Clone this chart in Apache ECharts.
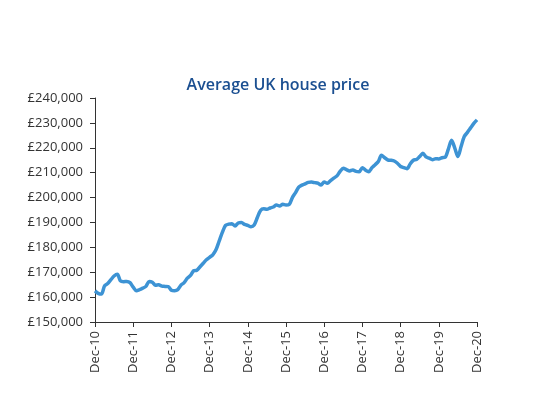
<!DOCTYPE html>
<html>
<head>
<meta charset="utf-8">
<script src="https://cdn.jsdelivr.net/npm/echarts@6/dist/echarts.min.js"></script>
<style>
  html, body { margin: 0; padding: 0; background: #fff; }
  #chart { width: 539px; height: 397px; }
</style>
</head>
<body>
<div id="chart"></div>
<script>
// monthly average UK house price, Dec-10 .. Dec-20
const years = ['10', '11', '12', '13', '14', '15', '16', '17', '18', '19', '20'];
const monthNames = ['Dec', 'Jan', 'Feb', 'Mar', 'Apr', 'May', 'Jun', 'Jul', 'Aug', 'Sep', 'Oct', 'Nov'];
const prices = [
  162500, 161500, 161200, 164500, 165500, 167000, 168500, 169200, 166500, 166200, 166300, 165800,
  164000, 162600, 163000, 163600, 164300, 166300, 166000, 164800, 165000, 164400, 164300, 164200,
  162800, 162600, 163000, 164800, 165800, 167600, 168700, 170600, 170800, 172200, 173600, 175000,
  176000, 177000, 179000, 182500, 186000, 188800, 189300, 189500, 188600, 189800, 190000, 189200,
  188800, 188300, 189000, 192000, 194800, 195500, 195300, 195800, 196200, 197000, 196600, 197300,
  197000, 197200, 200000, 202000, 204200, 205000, 205500, 206100, 206200, 206000, 205800, 205000,
  206300, 205700, 206800, 207800, 208700, 210500, 211800, 211200, 210700, 211100, 210500, 210400,
  212000, 211000, 210400, 212000, 213200, 214500, 217000, 216000, 215100, 215000, 214700, 213800,
  212500, 212000, 211600, 213500, 215000, 215300, 216500, 217800, 216300, 215800, 215200, 215600,
  215500, 216000, 216200, 219500, 223000, 220000, 216500, 220500, 224500, 226200, 228000, 229800,
  231200
];

// category labels, one per month
const months = prices.map((v, i) => {
  const yr = Math.floor((i + 11) / 12);
  return monthNames[i % 12] + '-' + years[Math.min(yr, years.length - 1)];
});

const chart = echarts.init(document.getElementById('chart'));
const font = 'Open Sans';

var option = {
  animation: false,
  title: {
    text: 'Average UK house price',
    left: 273,
    textAlign: 'center',
    top: 72,
    textStyle: { fontFamily: font, fontSize: 16, fontWeight: 600, color: '#1b4f91' }
  },
  grid: {
    left: 95,
    right: 62,
    top: 98,
    bottom: 75
  },
  xAxis: {
    type: 'category',
    data: months,
    boundaryGap: false,
    axisLine: { lineStyle: { color: '#333', width: 1 } },
    axisTick: { interval: 11, length: 5, lineStyle: { color: '#333' } },
    axisLabel: {
      interval: 11,
      rotate: 90,
      margin: 9,
      fontFamily: font,
      fontSize: 13,
      color: '#333'
    },
    splitLine: { show: false }
  },
  yAxis: {
    type: 'value',
    min: 150000,
    max: 240000,
    interval: 10000,
    axisLine: { show: true, lineStyle: { color: '#333', width: 1 } },
    axisTick: { show: true, length: 5, lineStyle: { color: '#333' } },
    axisLabel: {
      margin: 12,
      fontFamily: font,
      fontSize: 13,
      color: '#333',
      formatter: v => '£' + v.toLocaleString('en-GB')
    },
    splitLine: { show: false }
  },
  series: [{
    type: 'line',
    data: prices,
    smooth: 0.3,
    showSymbol: false,
    lineStyle: { color: '#3d93d4', width: 3.5 }
  }]
};

chart.setOption(option);
</script>
</body>
</html>
